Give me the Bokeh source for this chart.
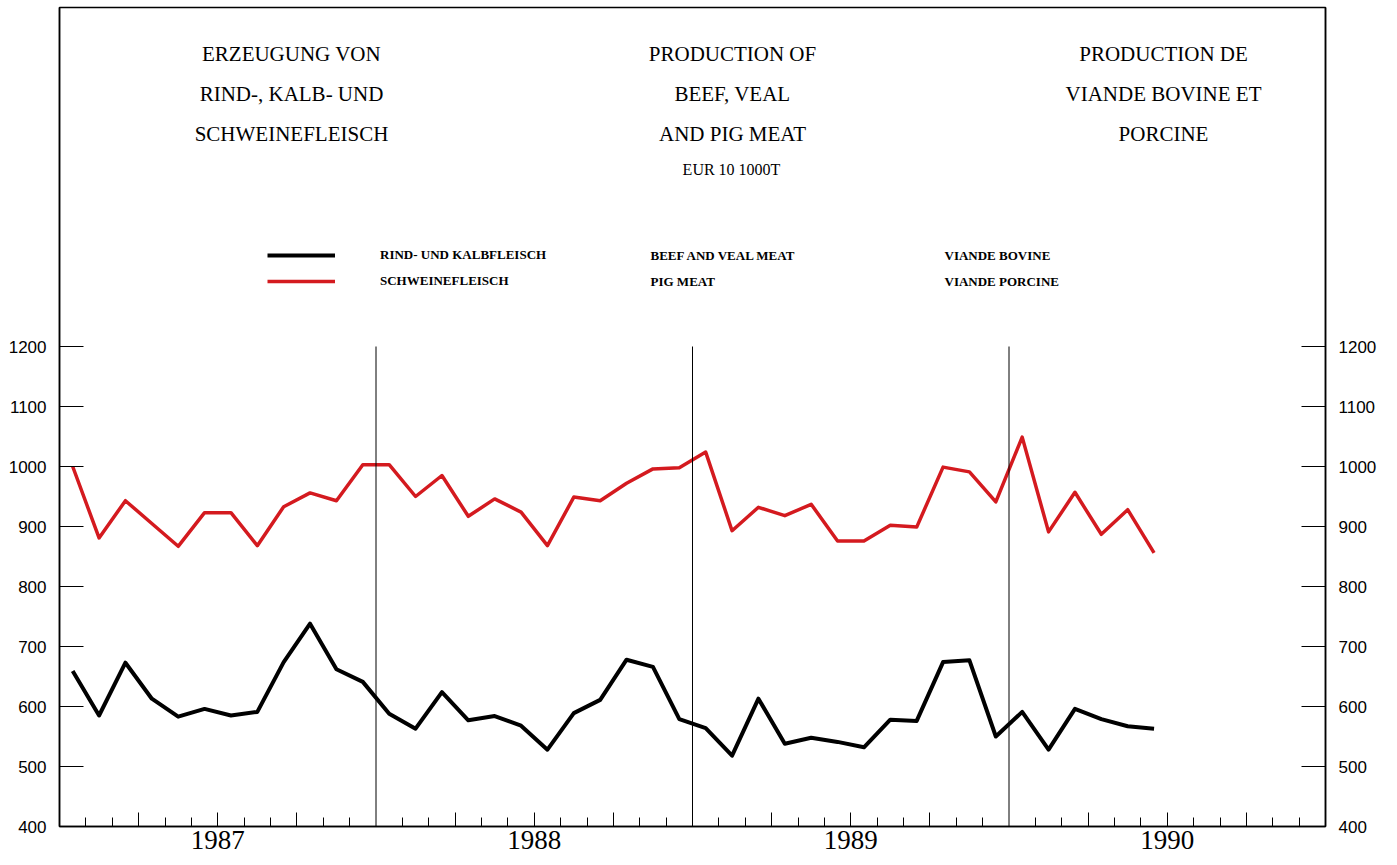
from bokeh.plotting import figure
from bokeh.models import Range1d, FixedTicker, LinearAxis, Legend, LegendItem, Label
from bokeh.embed import file_html
from bokeh.resources import INLINE

# ---------------- data ----------------
years = ["1987", "1988", "1989", "1990"]
beef_veal = [659, 585, 673, 613, 583, 596, 585, 591, 674, 738, 662, 641,
             588, 563, 624, 577, 584, 568, 528, 589, 611, 678, 666, 579,
             564, 518, 613, 538, 548, 541, 532, 578, 576, 674, 677, 550,
             591, 528, 596, 579, 567, 563]
pig_meat = [1000, 881, 943, 905, 867, 923, 923, 868, 933, 956, 943, 1003,
            1003, 950, 985, 917, 946, 924, 868, 949, 943, 972, 996, 998,
            1024, 893, 932, 918, 937, 876, 876, 902, 899, 999, 991, 941,
            1049, 891, 957, 887, 928, 856]
y_ticks = [400, 500, 600, 700, 800, 900, 1000, 1100, 1200]
title_de = ["ERZEUGUNG VON", "RIND-, KALB- UND", "SCHWEINEFLEISCH"]
title_en = ["PRODUCTION OF", "BEEF, VEAL", "AND PIG MEAT"]
title_fr = ["PRODUCTION DE", "VIANDE BOVINE ET", "PORCINE"]
unit_text = "EUR 10  1000T"
series_de = ["RIND- UND KALBFLEISCH", "SCHWEINEFLEISCH"]
series_en = ["BEEF AND VEAL MEAT", "PIG MEAT"]
series_fr = ["VIANDE BOVINE", "VIANDE PORCINE"]

# ---------------- layout ----------------
W, H = 1390, 864
LEFT, RIGHT, TOP = 59, 65, 7
BOTTOM = H - 826
frame_h = H - TOP - BOTTOM
px_per_unit = 0.6
y_min = y_ticks[0]
y_max = y_min + frame_h / px_per_unit
n_months = 12 * len(years)
frame_w = W - LEFT - RIGHT
px_per_month = frame_w / n_months

def dx(page_x):
    return (page_x - LEFT) / px_per_month

def dy(page_y):
    return y_min + (TOP + frame_h - page_y) / px_per_unit

p = figure(width=W, height=H, output_backend="svg", toolbar_location=None,
           x_range=Range1d(0, n_months), y_range=Range1d(y_min, y_max),
           min_border_left=LEFT, min_border_right=RIGHT,
           min_border_top=TOP, min_border_bottom=BOTTOM)
p.background_fill_color = "white"
p.border_fill_color = "white"
p.outline_line_color = "black"
p.outline_line_width = 1.5
p.grid.visible = False

months_x = [i + 0.5 for i in range(len(beef_veal))]

r_beef = p.line(months_x, beef_veal, line_color="black", line_width=4, line_join="round")
r_pig = p.line(months_x, pig_meat, line_color="#d41a1f", line_width=3.5, line_join="round")

# year separator lines
bounds = [12 * k for k in range(1, len(years))]
p.segment(x0=bounds, y0=[y_ticks[0]] * len(bounds), x1=bounds, y1=[y_ticks[-1]] * len(bounds),
          line_color="black", line_width=1)

# y axes
for ax in p.yaxis:
    ax.ticker = FixedTicker(ticks=y_ticks)
right_ax = LinearAxis(ticker=FixedTicker(ticks=y_ticks))
p.add_layout(right_ax, "right")
for ax in list(p.yaxis) + [right_ax]:
    ax.major_tick_in = 24
    ax.major_tick_out = 0
    ax.minor_tick_line_color = None
    ax.axis_line_color = "black"
    ax.axis_line_width = 1.5
    ax.major_tick_line_color = "black"
    ax.major_label_standoff = 13
    ax.major_label_text_font = "Liberation Sans"
    ax.major_label_text_font_size = "17px"
    ax.major_label_text_color = "black"

# x axis
quarters = [m for m in range(3, n_months, 3) if m % 12 != 0]
month_minor = [m for m in range(1, n_months) if m % 3 != 0]
overrides = {m: "" for m in quarters}
for k, yr in enumerate(years):
    overrides[12 * k + 6] = yr
xa = p.xaxis[0]
xa.ticker = FixedTicker(ticks=quarters, minor_ticks=month_minor)
xa.major_label_overrides = overrides
xa.major_tick_in = 14
xa.major_tick_out = 0
xa.minor_tick_in = 9
xa.minor_tick_out = 0
xa.axis_line_color = "black"
xa.axis_line_width = 1.5
xa.major_label_standoff = 4
xa.major_label_text_font = "Liberation Serif"
xa.major_label_text_font_size = "27px"
xa.major_label_text_color = "black"

# titles
serif = "Liberation Serif"
for cx, lines in ((291, title_de), (732, title_en), (1163, title_fr)):
    for j, t in enumerate(lines):
        p.add_layout(Label(x=dx(cx), y=dy(53 + 40 * j), text=t, text_align="center",
                           text_baseline="middle", text_font=serif,
                           text_font_size="21px", text_color="black"))
p.add_layout(Label(x=dx(733), y=dy(169), text=unit_text, text_align="center",
                   text_baseline="middle", text_font=serif,
                   text_font_size="16px", text_color="black"))

# legend
legend = Legend(items=[LegendItem(label=series_de[0], renderers=[r_beef]),
                       LegendItem(label=series_de[1], renderers=[r_pig])],
                location=(208, 536), glyph_width=68, glyph_height=18,
                label_height=18, label_standoff=45, spacing=8, padding=0, margin=0,
                border_line_color=None, background_fill_alpha=0,
                label_text_font=serif, label_text_font_style="bold",
                label_text_font_size="13px", label_text_color="black")
p.add_layout(legend)
for cx, texts in ((650, series_en), (944, series_fr)):
    for j, t in enumerate(texts):
        p.add_layout(Label(x=dx(cx), y=dy(255 + 26 * j), text=t, text_align="left",
                           text_baseline="middle", text_font=serif, text_font_style="bold",
                           text_font_size="13px", text_color="black"))

open("out.html", "w").write(file_html(p, INLINE))
